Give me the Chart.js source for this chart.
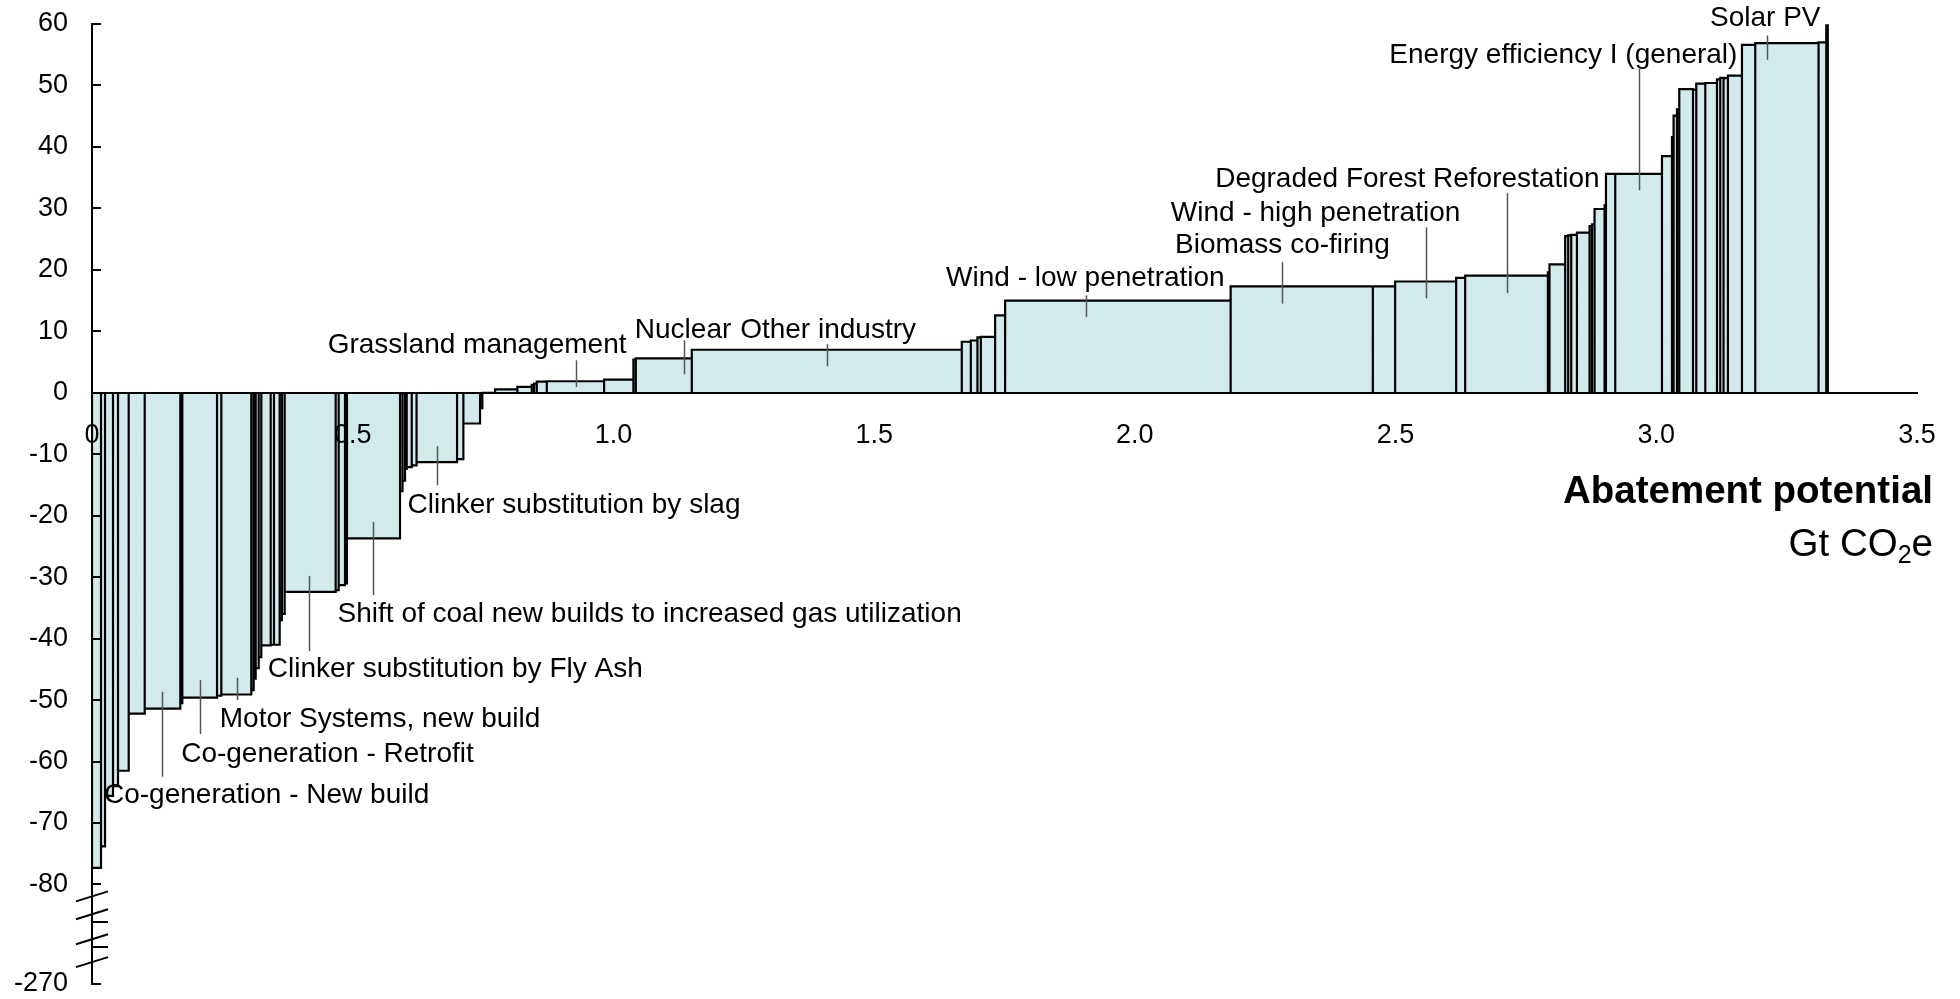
<!DOCTYPE html>
<html>
<head>
<meta charset="utf-8">
<title>Abatement cost curve</title>
<script src="https://cdn.jsdelivr.net/npm/chart.js@4.4.1/dist/chart.umd.min.js"></script>
<style>
  html, body { margin: 0; padding: 0; background: #fff; }
</style>
</head>
<body>
<canvas id="macc" width="1960" height="999"></canvas>
<script>
// abatement potential of each lever, Gt CO2e (bar widths, left to right)
const widths = [
  0.0173, 0.0077, 0.0153, 0.0096, 0.0205, 0.0307, 0.0683, 0.0038, 0.0666, 0.0082,
  0.0575, 0.0046, 0.0038, 0.0058, 0.0050, 0.0180, 0.0063, 0.0109, 0.0044, 0.0052,
  0.0978, 0.0058, 0.0121, 0.0038, 0.1017, 0.0048, 0.0048, 0.0033, 0.0096, 0.0092,
  0.0777, 0.0121, 0.0320, 0.0044, 0.0244,
  0.0428, 0.0276, 0.0044, 0.0052, 0.0192, 0.1099, 0.0562, 0.0046, 0.1074, 0.5178,
  0.0173, 0.0127, 0.0065, 0.0274, 0.0192, 0.4325, 0.2727, 0.0428, 0.1170, 0.0173,
  0.1586, 0.0031, 0.0301, 0.0058, 0.0058, 0.0109, 0.0242, 0.0046, 0.0050, 0.0192,
  0.0027, 0.0178, 0.0896, 0.0192, 0.0031, 0.0065, 0.0044, 0.0263, 0.0063, 0.0173,
  0.0224, 0.0063, 0.0063, 0.0084, 0.0269, 0.0255, 0.1214, 0.0148, 0.0029
];

// abatement cost of each lever (bar heights)
const costs = [
  -77.3, -73.8, -65.6, -64.0, -61.5, -52.2, -51.4, -50.5, -49.6, -49.3,
  -49.1, -48.4, -46.5, -44.8, -43.0, -41.1, -41.0, -41.0, -37.0, -36.0,
  -32.4, -32.1, -31.3, -31.0, -23.7, -16.0, -14.3, -12.4, -12.1, -11.8,
  -11.3, -10.8, -5.0, -2.5, 0,
  0.55, 0.95, 1.3, 1.5, 1.8, 1.87, 2.15, 5.4, 5.6, 7.0,
  8.3, 8.5, 9.0, 9.1, 12.6, 15.0, 17.3, 17.3, 18.1, 18.7,
  19.05, 19.6, 20.9, 25.5, 25.6, 25.7, 26.05, 27.1, 27.4, 29.9,
  30.5, 35.6, 35.6, 38.5, 41.6, 45.1, 46.1, 49.4, 49.3, 50.3,
  50.4, 51.0, 51.25, 51.2, 51.6, 56.6, 56.9, 57.0, 59.8
];

const xTicks = [0, 0.5, 1.0, 1.5, 2.0, 2.5, 3.0, 3.5];
const xTickLabels = ['0', '0.5', '1.0', '1.5', '2.0', '2.5', '3.0', '3.5'];
const yTicks = [60, 50, 40, 30, 20, 10, 0, -10, -20, -30, -40, -50, -60, -70, -80];
const yBreakLabel = '-270';

const leverNames = [
  'Co-generation - New build',
  'Co-generation - Retrofit',
  'Motor Systems, new build',
  'Clinker substitution by Fly Ash',
  'Shift of coal new builds to increased gas utilization',
  'Clinker substitution by slag',
  'Grassland management',
  'Nuclear',
  'Other industry',
  'Wind - low penetration',
  'Biomass co-firing',
  'Wind - high penetration',
  'Degraded Forest Reforestation',
  'Energy efficiency I (general)',
  'Solar PV'
];

// where each name and its leader line sit: [text x, text y, leader x, leader top, leader bottom]
const labelSpots = [
  [0.023, -65.45, 0.134, -48.65, -62.47],
  [0.171, -58.78, 0.207, -46.75, -55.53],
  [0.245, -53.09, 0.278, -46.37, -50.0],
  [0.337, -44.96, 0.416, -29.79, -42.03],
  [0.471, -36.02, 0.538, -21.0, -32.93],
  [0.605, -18.29, 0.661, -8.70, -15.04],
  [0.452, 7.72, 0.928, 5.28, 0.94],
  [1.041, 10.16, 1.135, 8.54, 3.0],
  [1.243, 10.16, 1.409, 7.89, 4.31],
  [1.638, 18.7, 1.906, 15.85, 12.33],
  [2.077, 23.98, 2.282, 21.27, 14.5],
  [2.069, 29.27, 2.558, 26.9, 15.37],
  [2.154, 34.76, 2.713, 32.49, 16.23],
  [2.488, 54.88, 2.966, 52.72, 32.93],
  [3.103, 60.98, 3.212, 58.13, 54.18]
];

const Y_BOTTOM = -96.2;   // axis is broken below -80, bottom stands for -270
const FONT = 'Arial, "Liberation Sans", Helvetica, sans-serif';

// each lever becomes a rectangle: up from zero, across, back down
function buildOutline() {
  const pts = [];
  let x0 = 0;
  for (let i = 0; i < widths.length; i++) {
    const x1 = x0 + widths[i];
    pts.push({x: x0, y: 0}, {x: x0, y: costs[i]}, {x: x1, y: costs[i]}, {x: x1, y: 0});
    x0 = x1;
  }
  return pts;
}

function line(ctx, x1, y1, x2, y2) {
  ctx.beginPath();
  ctx.moveTo(x1, y1);
  ctx.lineTo(x2, y2);
  ctx.stroke();
}

const extras = {
  id: 'extras',
  afterDatasetsDraw(chart) {
    const ctx = chart.ctx;
    const xs = chart.scales.x, ys = chart.scales.y;
    ctx.save();
    // leader lines and names
    ctx.strokeStyle = '#555';
    ctx.lineWidth = 1.5;
    labelSpots.forEach(s => {
      const lx = Math.round(xs.getPixelForValue(s[2])) + 0.5;
      line(ctx, lx, ys.getPixelForValue(s[3]), lx, ys.getPixelForValue(s[4]));
    });
    ctx.fillStyle = '#000';
    ctx.font = '28px ' + FONT;
    ctx.textAlign = 'left';
    ctx.textBaseline = 'middle';
    labelSpots.forEach((s, i) => {
      ctx.fillText(leverNames[i], xs.getPixelForValue(s[0]), ys.getPixelForValue(s[1]));
    });
    ctx.restore();
  },
  afterDraw(chart) {
    const ctx = chart.ctx;
    const xs = chart.scales.x, ys = chart.scales.y;
    const ax = ys.right;
    ctx.save();
    ctx.strokeStyle = '#000';
    ctx.lineWidth = 2;
    // tick marks point into the plot
    ys.ticks.forEach(t => {
      const p = Math.round(ys.getPixelForValue(t.value));
      line(ctx, ax, p, ax + 9, p);
    });
    // axis break between -80 and -270
    const top = ys.getPixelForValue(yTicks[yTicks.length - 1]);
    const gap = ys.bottom - top;
    [0.12, 0.3, 0.55, 0.78].forEach(f => {
      const p = top + f * gap;
      line(ctx, ax - 16, p + 5, ax + 16, p - 5);
    });
    [0.38, 0.63].forEach(f => {
      const p = Math.round(top + f * gap);
      line(ctx, ax, p, ax + 16, p);
    });

    // axis title
    const zeroY = ys.getPixelForValue(0);
    const right = xs.right + 16;
    ctx.fillStyle = '#000';
    ctx.textBaseline = 'alphabetic';
    ctx.textAlign = 'right';
    ctx.font = 'bold 38.5px ' + FONT;
    ctx.fillText('Abatement potential', right, zeroY + 110);
    ctx.font = '38.5px ' + FONT;
    const wE = ctx.measureText('e').width;
    ctx.fillText('e', right, zeroY + 163);
    ctx.font = '25px ' + FONT;
    const w2 = ctx.measureText('2').width;
    ctx.fillText('2', right - wE, zeroY + 170);
    ctx.font = '38.5px ' + FONT;
    ctx.fillText('Gt CO', right - wE - w2, zeroY + 163);
    ctx.restore();
  }
};

new Chart(document.getElementById('macc'), {
  type: 'line',
  data: {
    datasets: [{
      data: buildOutline(),
      borderColor: '#000',
      borderWidth: 2.2,
      backgroundColor: '#d3eaec',
      fill: 'origin',
      pointRadius: 0,
      tension: 0
    }]
  },
  options: {
    responsive: false,
    animation: false,
    events: [],
    layout: { padding: { left: 0, top: 24, right: 43, bottom: 15 } },
    plugins: {
      legend: { display: false },
      tooltip: { enabled: false }
    },
    scales: {
      x: {
        type: 'linear',
        position: { y: 0 },
        min: 0,
        max: 3.5,
        afterBuildTicks: s => { s.ticks = xTicks.map(v => ({value: v})); },
        afterFit: s => {
          s.height = 0;
          s.paddingLeft = 0;
          s.paddingRight = 0;
        },
        grid: { display: false, drawTicks: false },
        border: { display: true, color: '#000', width: 2, z: 1 },
        ticks: {
          z: 1,
          padding: 27,
          maxRotation: 0,
          autoSkip: false,
          color: '#000',
          font: { family: FONT, size: 27 },
          callback: (v, i) => xTickLabels[i]
        }
      },
      y: {
        type: 'linear',
        min: Y_BOTTOM,
        max: 60,
        afterBuildTicks: s => {
          s.ticks = yTicks.map(v => ({value: v})).concat([{value: Y_BOTTOM}]);
        },
        afterFit: s => {
          s.width = 92;
          s.paddingTop = 0;
          s.paddingBottom = 0;
        },
        grid: { display: false, drawTicks: false },
        border: { display: true, color: '#000', width: 2, z: 1 },
        ticks: {
          padding: 24,
          autoSkip: false,
          color: '#000',
          font: { family: FONT, size: 27 },
          callback: (v, i) => i < yTicks.length ? String(yTicks[i]) : yBreakLabel
        }
      }
    }
  },
  plugins: [extras]
});
</script>
</body>
</html>
